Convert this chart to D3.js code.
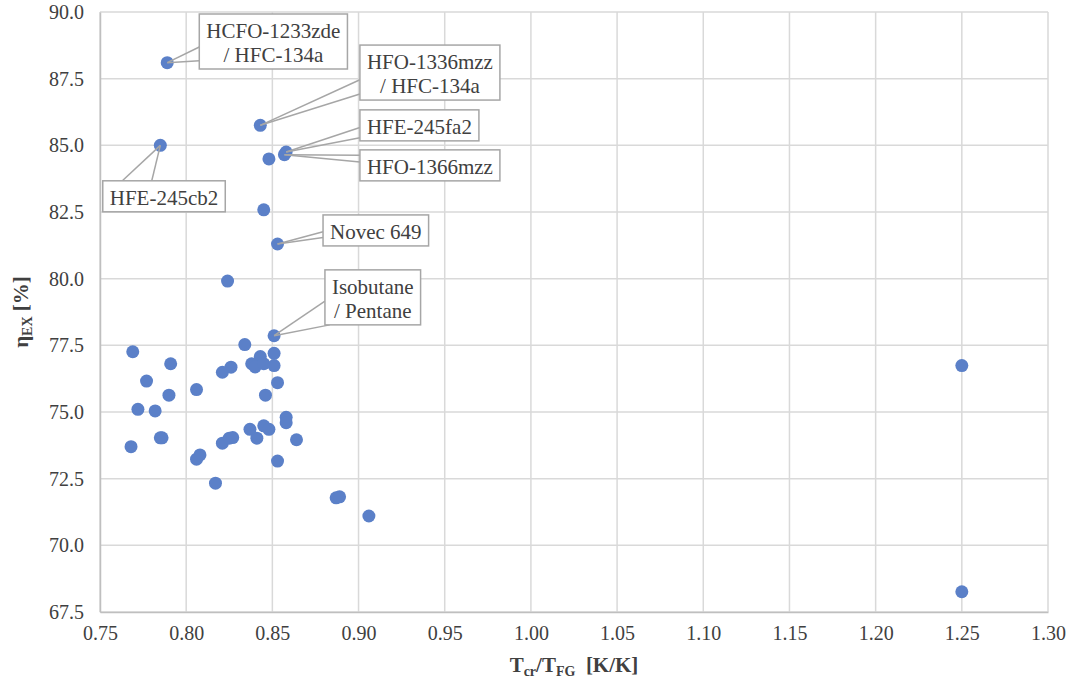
<!DOCTYPE html>
<html>
<head>
<meta charset="utf-8">
<script src="https://cdn.jsdelivr.net/npm/d3@7"></script>
<style>
  body { margin: 0; background: #fff; }
  svg text { font-family: "Liberation Serif", "DejaVu Serif", serif !important; fill: #404040; }
</style>
</head>
<body>
<svg id="chart" width="1073" height="687"></svg>
<script>
// T_cr / T_FG  and  exergy efficiency
var ratioVals = [0.789, 0.843, 0.785, 0.858, 0.857, 0.848, 0.845, 0.853, 0.824, 0.851,
  0.769, 0.834, 0.791, 0.826, 0.821, 0.843, 0.838, 0.840, 0.845, 0.851,
  0.851, 0.853, 0.846, 0.777, 0.790, 0.806, 0.772, 0.782, 0.768, 0.785,
  0.786, 0.806, 0.808, 0.821, 0.825, 0.827, 0.837, 0.841, 0.845, 0.848,
  0.858, 0.858, 0.864, 0.853, 0.817, 0.887, 0.889, 0.906, 1.250, 1.250];
var etaVals = [88.10, 85.75, 85.00, 84.75, 84.65, 84.49, 82.58, 81.30, 79.91, 77.86,
  77.26, 77.53, 76.81, 76.68, 76.49, 77.08, 76.81, 76.69, 76.81, 77.20,
  76.74, 76.10, 75.63, 76.16, 75.63, 75.84, 75.10, 75.04, 73.70, 74.03,
  74.03, 73.23, 73.39, 73.83, 74.02, 74.04, 74.35, 74.02, 74.48, 74.35,
  74.80, 74.60, 73.96, 73.16, 72.33, 71.78, 71.82, 71.10, 76.74, 68.26];

var xTicks = [0.75, 0.80, 0.85, 0.90, 0.95, 1.00, 1.05, 1.10, 1.15, 1.20, 1.25, 1.30];
var yTicks = [67.5, 70.0, 72.5, 75.0, 77.5, 80.0, 82.5, 85.0, 87.5, 90.0];

// labelled fluids: index of the point and text lines
var calloutPoint = [0, 1, 2, 3, 4, 7, 9];
var calloutText = [
  ["HCFO-1233zde", "/ HFC-134a"],
  ["HFO-1336mzz", "/ HFC-134a"],
  ["HFE-245cb2"],
  ["HFE-245fa2"],
  ["HFO-1366mzz"],
  ["Novec 649"],
  ["Isobutane", "/ Pentane"]
];
// box top-left corner in data units, and where the pointer meets the box (fractions)
var calloutBox = [[0.8076, 89.925], [0.9008, 88.76], [0.7516, 83.67], [0.9008, 86.33],
  [0.9008, 84.83], [0.8794, 82.39], [0.8805, 80.33]];
var calloutTip = [[[0, 0.6], [0, 0.85]], [[0, 0.63], [0, 0.89]], [[0.16, 0], [0.4, 0]],
  [[0, 0.57], [0, 0.9]], [[0, 0.17], [0, 0.39]], [[0, 0.54], [0, 0.73]],
  [[0, 0.57], [0.05, 1]]];

var svg = d3.select("#chart");
var margin = {left: 100, right: 25, top: 12, bottom: 75};
var W = 1073, H = 687;

var x = d3.scaleLinear().domain([0.75, 1.30]).range([margin.left, W - margin.right]);
var y = d3.scaleLinear().domain([67.5, 90]).range([H - margin.bottom, margin.top]);

var grid = svg.append("g");
grid.selectAll("line.v").data(xTicks).enter().append("line")
  .attr("x1", d => x(d)).attr("x2", d => x(d))
  .attr("y1", y(67.5)).attr("y2", y(90))
  .attr("stroke", "#d9d9d9").attr("stroke-width", 1.5);
grid.selectAll("line.h").data(yTicks).enter().append("line")
  .attr("x1", x(0.75)).attr("x2", x(1.30))
  .attr("y1", d => y(d)).attr("y2", d => y(d))
  .attr("stroke", "#d9d9d9").attr("stroke-width", 1.5);

// axes, only the labels are shown
var xAxis = svg.append("g").attr("transform", "translate(0," + y(67.5) + ")")
  .call(d3.axisBottom(x).tickValues(xTicks).tickFormat(d3.format(".2f")).tickSize(0).tickPadding(14));
var yAxis = svg.append("g").attr("transform", "translate(" + x(0.75) + ",0)")
  .call(d3.axisLeft(y).tickValues(yTicks).tickFormat(d3.format(".1f")).tickSize(0).tickPadding(16));
[xAxis, yAxis].forEach(function (a) {
  a.attr("font-family", null).attr("font-size", null);
  a.select(".domain").attr("stroke", "#bfbfbf").attr("stroke-width", 1.5);
  a.selectAll("text").style("font-size", "20px");
});

// points
svg.append("g").selectAll("circle")
  .data(ratioVals.map((v, i) => [v, etaVals[i]]))
  .enter().append("circle")
  .attr("cx", d => x(d[0])).attr("cy", d => y(d[1]))
  .attr("r", 6.5).attr("fill", "#5b80c8");

// callouts
var cg = svg.append("g");
calloutText.forEach(function (lines, i) {
  var g = cg.append("g");
  var bx = x(calloutBox[i][0]), by = y(calloutBox[i][1]);
  var pointer = g.append("g");
  var rect = g.append("rect").attr("fill", "#fff").attr("stroke", "#a6a6a6").attr("stroke-width", 1.5);
  var t = g.append("text").attr("text-anchor", "middle").style("font-size", "21px");
  lines.forEach(function (s, k) {
    t.append("tspan").attr("x", 0).attr("y", k * 24).text(s);
  });
  var bb = t.node().getBBox();
  var bw = bb.width + 14, bh = lines.length * 24 + 7;
  rect.attr("x", bx).attr("y", by).attr("width", bw).attr("height", bh);
  t.attr("transform", "translate(" + (bx + bw / 2) + "," + (by + 24) + ")");
  var p = ratioVals[calloutPoint[i]], q = etaVals[calloutPoint[i]];
  calloutTip[i].forEach(function (f) {
    pointer.append("line")
      .attr("x1", x(p)).attr("y1", y(q))
      .attr("x2", bx + f[0] * bw).attr("y2", by + f[1] * bh)
      .attr("stroke", "#a6a6a6").attr("stroke-width", 1.5);
  });
});

// axis titles
var xt = svg.append("text").attr("x", (x(0.75) + x(1.30)) / 2).attr("y", 672)
  .attr("text-anchor", "middle").style("font-size", "21px").style("font-weight", "bold");
xt.append("tspan").text("T");
xt.append("tspan").attr("dy", 4).style("font-size", "14px").text("cr");
xt.append("tspan").attr("dy", -4).text("/T");
xt.append("tspan").attr("dy", 4).style("font-size", "14px").text("FG");
xt.append("tspan").attr("dy", -4).attr("xml:space", "preserve").text("  [K/K]");

var yt = svg.append("text").attr("transform", "translate(28," + (y(67.5) + y(90)) / 2 + ") rotate(-90)")
  .attr("text-anchor", "middle").style("font-size", "21px").style("font-weight", "bold");
yt.append("tspan").text("η");
yt.append("tspan").attr("dy", 4).style("font-size", "14px").text("EX");
yt.append("tspan").attr("dy", -4).text(" [%]");
</script>
</body>
</html>
